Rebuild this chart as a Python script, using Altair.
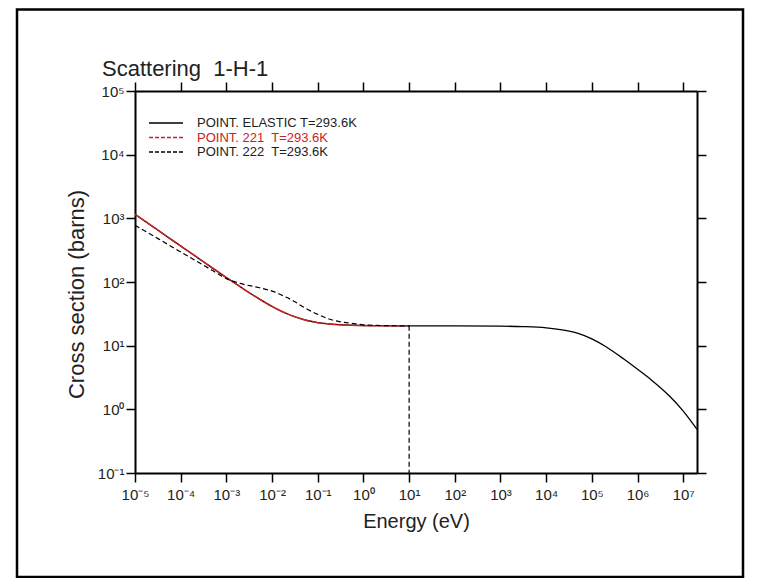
import altair as alt
import pandas as pd

# ---------------- data ----------------
elastic_energy = [1e-5, 2e-5, 5e-5, 1e-4, 2e-4, 5e-4, 1e-3, 2e-3, 5e-3, 1e-2, 2e-2, 5e-2,
                  1e-1, 2e-1, 5e-1, 1, 2, 5, 10, 100, 1e3, 3e3, 1e4, 3e4, 5e4, 1e5, 2e5, 5e5,
                  1e6, 2e6, 5e6, 1e7, 2e7]
elastic_xs = [1158, 821, 519, 367, 261, 165, 117.6, 84.3, 55.3, 41.3, 32.3, 25.6,
              23.0, 21.75, 20.97, 20.66, 20.58, 20.50, 20.47, 20.43, 20.25, 19.96, 19.1, 17.1, 15.6, 12.8, 9.7, 6.16,
              4.26, 2.90, 1.62, 0.94, 0.485]

mt221_energy = [1e-5, 2e-5, 5e-5, 1e-4, 2e-4, 5e-4, 1e-3, 2e-3, 5e-3, 1e-2, 2e-2, 5e-2,
                1e-1, 2e-1, 5e-1, 1, 2, 5, 10]
mt221_xs = [1158, 821, 519, 367, 261, 165, 117.6, 84.3, 55.3, 41.3, 32.3, 25.6,
            23.0, 21.75, 20.97, 20.66, 20.58, 20.50, 20.47]

mt222_energy = [1e-5, 2e-5, 5e-5, 1e-4, 2e-4, 5e-4, 1e-3, 2e-3, 5e-3, 1e-2, 2e-2, 3e-2, 5e-2,
                1e-1, 2e-1, 5e-1, 1, 2, 5, 10]
mt222_xs = [780, 584, 397, 297, 222, 151, 113, 95, 82, 72, 58, 50, 40,
            31, 25.5, 22.6, 21.3, 20.8, 20.55, 20.47]

# cut-off of MT222 at 10 eV (drops to the bottom of the plot)
drop_energy = [10]
drop_top = [20.47]
drop_bottom = [0.1]

x_ticks = [1e-5, 1e-4, 1e-3, 1e-2, 1e-1, 1, 10, 100, 1e3, 1e4, 1e5, 1e6, 1e7]
x_labels = ["10⁻⁵", "10⁻⁴", "10⁻³", "10⁻²", "10⁻¹", "10⁰", "10¹", "10²", "10³",
            "10⁴", "10⁵", "10⁶", "10⁷"]
y_ticks = [0.1, 1, 10, 100, 1e3, 1e4, 1e5]
y_labels = ["10⁻¹", "10⁰", "10¹", "10²", "10³", "10⁴", "10⁵"]

x_domain = [1e-5, 2e7]
y_domain = [0.1, 1e5]

NB = "\u00a0"
legend_labels = ["POINT. ELASTIC T=293.6K", "POINT. 221" + NB + " T=293.6K", "POINT. 222" + NB + " T=293.6K"]
chart_title = "Scattering" + NB + " 1-H-1"
x_title = "Energy (eV)"
y_title = "Cross section (barns)"

# ---------------- styling ----------------
W, H = 562, 382
FONT = "Liberation Sans"
RED = "#cc2222"
TXT = "#222222"


def label_expr(ticks, labels):
    expr = "''"
    for t, l in reversed(list(zip(ticks, labels))):
        expr = f"(datum.value < {t * 1.5!r} ? '{l}' : {expr})"
    return expr


xscale = alt.Scale(type="log", domain=x_domain, nice=False)
yscale = alt.Scale(type="log", domain=y_domain, nice=False)

common_axis = dict(grid=False, domainColor="black", domainWidth=2, tickColor="black",
                   tickWidth=1.5, tickSize=9, labelFont=FONT, labelColor=TXT,
                   labelFontSize=15, titleFont=FONT,
                   titleFontWeight="normal", titleColor=TXT, labelOverlap=False)

x_bottom = alt.Axis(orient="bottom", values=x_ticks, labelExpr=label_expr(x_ticks, x_labels),
                    labelFlush=False, labelPadding=5, titleBaseline="alphabetic", titleY=54,
                    titleFontSize=20, **common_axis)
y_left = alt.Axis(orient="left", values=y_ticks, labelExpr=label_expr(y_ticks, y_labels),
                  labelPadding=2, titleBaseline="alphabetic", titleX=-52, titleY=H / 2 + 12,
                  titleFontSize=22, **common_axis)
x_top = alt.Axis(orient="top", values=x_ticks, labels=False, **common_axis)
y_right = alt.Axis(orient="right", values=y_ticks, labels=False, **common_axis)

df_el = pd.DataFrame({"E": elastic_energy, "s": elastic_xs})
df_221 = pd.DataFrame({"E": mt221_energy, "s": mt221_xs})
df_222 = pd.DataFrame({"E": mt222_energy, "s": mt222_xs})
df_drop = pd.DataFrame({"E": drop_energy, "s": drop_top, "s2": drop_bottom})
one = pd.DataFrame({"a": [0]})

elastic = alt.Chart(df_el).mark_line(color="black", strokeWidth=1.3, interpolate="monotone",
                                     clip=True).encode(
    x=alt.X("E:Q", scale=xscale, axis=x_bottom, title=x_title),
    y=alt.Y("s:Q", scale=yscale, axis=y_left, title=y_title),
)

red = alt.Chart(df_221).mark_line(color=RED, strokeWidth=1.5, strokeDash=[12, 1],
                                  interpolate="monotone", clip=True).encode(
    x=alt.X("E:Q", scale=xscale, axis=x_top, title=None),
    y=alt.Y("s:Q", scale=yscale, axis=y_right, title=None),
)

dashed = alt.Chart(df_222).mark_line(color="black", strokeWidth=1.2, strokeDash=[5, 3],
                                     interpolate="monotone", clip=True).encode(
    x=alt.X("E:Q", scale=xscale, axis=None),
    y=alt.Y("s:Q", scale=yscale, axis=None),
)

drop = alt.Chart(df_drop).mark_rule(color="black", strokeWidth=1.2, strokeDash=[5, 3]).encode(
    x=alt.X("E:Q", scale=xscale, axis=None),
    y=alt.Y("s:Q", scale=yscale, axis=None),
    y2="s2:Q",
)

# legend (inside the plot, top left)
leg_rows = [32, 46.5, 61]
leg_colors = ["black", RED, "black"]
leg_dash = [[1, 0], [4, 2], [4, 2]]
legend_layers = []
for lab, yy, col, dash in zip(legend_labels, leg_rows, leg_colors, leg_dash):
    legend_layers.append(
        alt.Chart(one).mark_rule(color=col, strokeWidth=1.3, strokeDash=dash).encode(
            x=alt.value(14), x2=alt.value(48), y=alt.value(yy)))
    legend_layers.append(
        alt.Chart(one).mark_text(text=lab, font=FONT, fontSize=13, color=TXT if col == "black" else col,
                                 align="left", baseline="middle").encode(
            x=alt.value(62), y=alt.value(yy)))

title_mark = alt.Chart(one).mark_text(text=chart_title, font=FONT, fontSize=22, color=TXT,
                                      align="left", baseline="alphabetic").encode(
    x=alt.value(-33), y=alt.value(-15))

border = alt.Chart(one).mark_rect(filled=False, stroke="black", strokeWidth=2.5).encode(
    x=alt.value(-118), x2=alt.value(608), y=alt.value(-81.5), y2=alt.value(486))

chart = alt.layer(
    elastic, red, dashed, drop, *legend_layers, title_mark, border
).resolve_axis(
    x="independent", y="independent"
).properties(
    width=W, height=H,
    autosize=alt.AutoSizeParams(type="none"),
    padding={"left": 127, "top": 83, "right": 56, "bottom": 105},
    background="white",
).configure_view(stroke=None)

chart.save("out.html", embed_options={"renderer": "svg", "actions": False})
